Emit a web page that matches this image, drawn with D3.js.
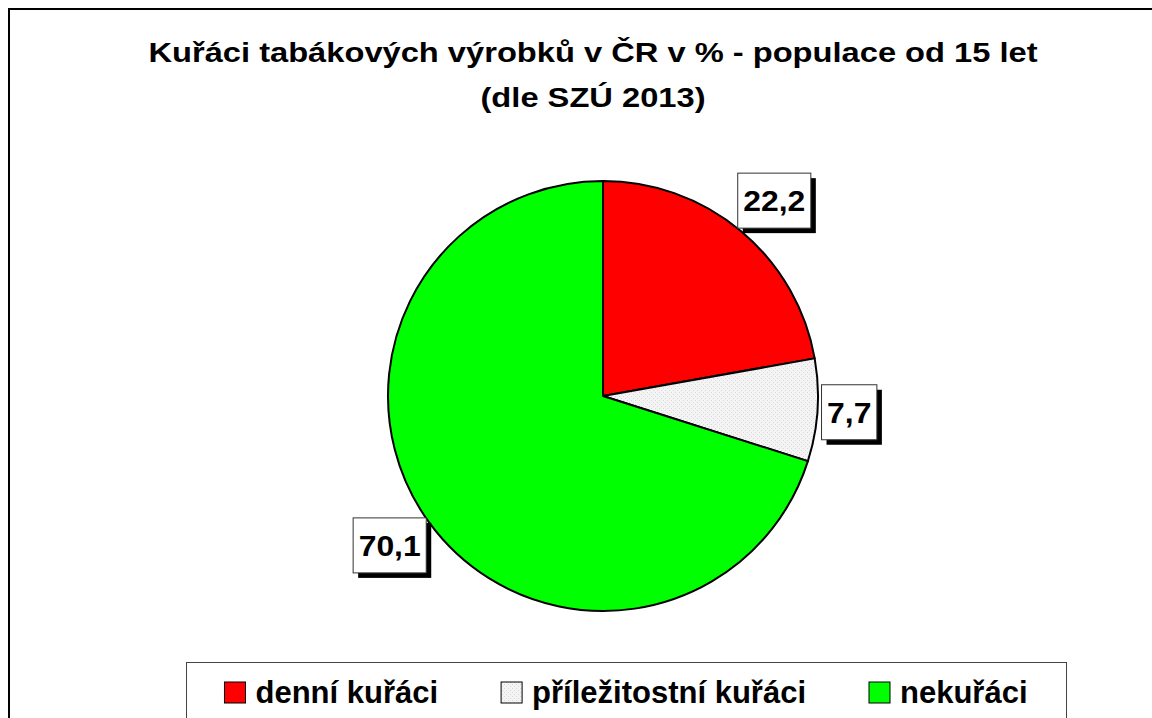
<!DOCTYPE html>
<html>
<head>
<meta charset="UTF-8">
<title></title>
<script src="https://d3js.org/d3.v7.min.js"></script>
<style>
  html, body { margin: 0; padding: 0; background: #fff; }
  svg { display: block; font-family: "Liberation Sans", Arial, sans-serif; }
</style>
</head>
<body>
<div id="chart"></div>
<script>
const categories = ["denní kuřáci", "příležitostní kuřáci", "nekuřáci"];
const values = [22.2, 7.7, 70.1];
const labels = ["22,2", "7,7", "70,1"];
const titleLines = ["Kuřáci tabákových výrobků v ČR v % - populace od 15 let", "(dle SZÚ 2013)"];

const width = 1152, height = 718;
const cx = 603, cy = 396, radius = 215;

const svg = d3.select("#chart").append("svg").attr("width", width).attr("height", height);

// vzorek pro prilezitostne kuraky
const defs = svg.append("defs");
const pat = defs.append("pattern").attr("id", "dots").attr("patternUnits", "userSpaceOnUse")
  .attr("width", 4).attr("height", 4);
pat.append("rect").attr("width", 4).attr("height", 4).attr("fill", "#f4f4f4");
pat.append("rect").attr("x", 0).attr("y", 0).attr("width", 1).attr("height", 1).attr("fill", "#d8d8d8");
pat.append("rect").attr("x", 2).attr("y", 2).attr("width", 1).attr("height", 1).attr("fill", "#d8d8d8");

const color = d3.scaleOrdinal().domain(categories).range(["#ff0000", "url(#dots)", "#00ff00"]);

// ramecek grafu
svg.append("rect").attr("x", 9).attr("y", 9).attr("width", 1300).attr("height", 900)
  .attr("fill", "none").attr("stroke", "#000").attr("stroke-width", 2);

// titulek (pismo je v originale trochu roztazene do sirky)
const titleX = 593, stretch = 1.21;
svg.append("g").attr("transform", `translate(${titleX},0) scale(${stretch},1)`)
  .selectAll("text").data(titleLines).join("text")
  .attr("x", 0).attr("y", (d, i) => 62 + i * 45)
  .attr("text-anchor", "middle").attr("font-size", 27).attr("font-weight", "bold")
  .text(d => d);

// kolac
const pie = d3.pie().sort(null).value(d => d);
const arcs = pie(values);
const arc = d3.arc().innerRadius(0).outerRadius(radius);

const g = svg.append("g").attr("transform", `translate(${cx},${cy})`);
g.selectAll("path").data(arcs).join("path")
  .attr("d", arc)
  .attr("fill", (d, i) => color(categories[i]))
  .attr("stroke", "#000").attr("stroke-width", 2).attr("stroke-linejoin", "round");

// popisky - roh/hrana ramecku lezi na paprsku uprostred vysece
const labFont = 29, boxH = 55, gap = 4;
const lg = g.selectAll(".lab").data(arcs).join("g").attr("class", "lab");
lg.each(function(d, i) {
  const sel = d3.select(this);
  const t = sel.append("text").attr("font-size", labFont).attr("font-weight", "bold")
    .attr("text-anchor", "middle").text(labels[i]);
  const tw = t.node().getComputedTextLength() * 1.1;
  const w = tw + 11;
  const a = (d.startAngle + d.endAngle) / 2;
  const s = Math.sin(a), c = Math.cos(a), m = Math.max(Math.abs(s), Math.abs(c));
  const px = (radius + gap) * s, py = -(radius + gap) * c;
  const bx = px + w / 2 * s / m, by = py - boxH / 2 * c / m;
  sel.insert("rect", "text").attr("x", bx - w / 2 + 5).attr("y", by - boxH / 2 + 5)
    .attr("width", w).attr("height", boxH).attr("fill", "#000");
  sel.insert("rect", "text").attr("x", bx - w / 2).attr("y", by - boxH / 2)
    .attr("width", w).attr("height", boxH).attr("fill", "#fff").attr("stroke", "#333").attr("stroke-width", 1);
  t.attr("x", 0).attr("y", 0)
    .attr("transform", `translate(${bx},${by + labFont * 0.358}) scale(1.1,1)`);
});

// legenda
const legX = 186, legY = 662, legW = 880, legFont = 31;
svg.append("rect").attr("x", legX + 0.5).attr("y", legY + 0.5).attr("width", legW).attr("height", 100)
  .attr("fill", "#fff").attr("stroke", "#444").attr("stroke-width", 1);

const legend = svg.append("g");
const items = legend.selectAll("g").data(categories).join("g");
items.append("rect").attr("width", 21).attr("height", 21).attr("y", 682)
  .attr("fill", d => color(d)).attr("stroke", "#000").attr("stroke-width", 1);
items.append("text").attr("x", 31).attr("y", 703)
  .attr("font-size", legFont).attr("font-weight", "bold").text(d => d);

const itemW = [];
items.each(function() { itemW.push(31 + d3.select(this).select("text").node().getComputedTextLength()); });
const itemGap = 63;
const total = d3.sum(itemW) + itemGap * (itemW.length - 1);
let xx = legX + (legW - total) / 2;
items.each(function(d, i) {
  d3.select(this).select("rect").attr("x", xx);
  d3.select(this).select("text").attr("x", xx + 31);
  xx += itemW[i] + itemGap;
});
</script>
</body>
</html>
